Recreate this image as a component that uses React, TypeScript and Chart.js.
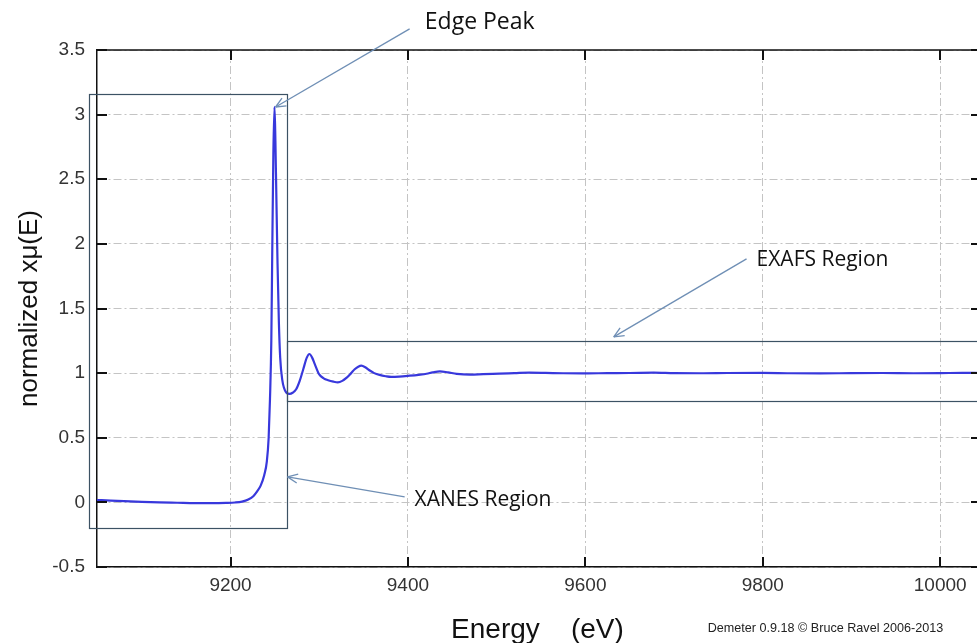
import React, { useEffect, useRef } from 'react';
import { Chart, registerables } from 'chart.js';

Chart.register(...registerables);

// ---- data ----
const energy: number[] = [
  9049.5, 9065, 9080, 9100, 9120, 9140, 9160, 9180, 9195, 9205, 9213, 9220, 9226, 9230, 9234,
  9238, 9241, 9243, 9244.5, 9246, 9247, 9248.3, 9249.6, 9250.6, 9251.6, 9253, 9254.5, 9256,
  9258.3, 9262.8, 9266.6, 9270, 9274, 9278, 9282, 9286, 9289, 9292, 9295, 9300, 9305, 9310,
  9316, 9321, 9326, 9331, 9336, 9340, 9344, 9347.5, 9352, 9357, 9362, 9368, 9375, 9381, 9390,
  9402, 9412, 9421, 9428, 9436, 9445, 9455, 9470, 9485, 9503, 9520, 9537, 9555, 9575, 9600,
  9625, 9650, 9677, 9700, 9730, 9760, 9800, 9830, 9865, 9900, 9935, 9970, 10000, 10025, 10046,
];
const muNorm: number[] = [
  0.018, 0.014, 0.009, 0.004, 0.0, -0.003, -0.006, -0.006, -0.004, -0.001, 0.006, 0.022, 0.05,
  0.085, 0.13, 0.21, 0.32, 0.5, 0.8, 1.25, 1.9, 2.7, 3.06, 2.8, 2.4, 1.85, 1.4, 1.12,
  0.95, 0.85, 0.839, 0.848, 0.875, 0.94, 1.03, 1.12, 1.148, 1.12, 1.07, 0.99, 0.96, 0.945,
  0.934, 0.929, 0.94, 0.965, 1.0, 1.03, 1.05, 1.058, 1.045, 1.02, 1.0, 0.986, 0.976, 0.971, 0.973,
  0.98, 0.987, 0.995, 1.006, 1.014, 1.006, 0.994, 0.988, 0.992, 0.996, 1.0, 1.004, 1.002, 0.999, 0.998,
  1.0, 1.001, 1.004, 1.0, 0.999, 1.001, 1.002, 0.999, 0.998, 1.0, 1.001, 0.999, 1.0, 1.002, 1.001,
];
const xTickValues: number[] = [9200, 9400, 9600, 9800, 10000];
const xRange: number[] = [9049.5, 10046];
const yRange: number[] = [-0.5, 3.5];
const yStep = 0.5;

const yAxisTitle = 'normalized x\u03bc(E)';
const xAxisTitle = 'Energy    (eV)';
const creditText = 'Demeter 0.9.18 \u00a9 Bruce Ravel 2006-2013';

// annotation boxes / arrows, in data coordinates
const xanesBox = { x0: 9040, x1: 9264, y0: -0.198, y1: 3.16 };
const exafsBox = { x0: 9264, x1: 10200, y0: 0.785, y1: 1.249 };
const annotations = [
  { text: 'Edge Peak', size: 23, tx: 9419, ty: 3.711, from: [9401.9, 3.663], to: [9250.8, 3.059] },
  { text: 'XANES Region', size: 21, tx: 9407.5, ty: 0.019, from: [9396.3, 0.042], to: [9264.3, 0.197] },
  { text: 'EXAFS Region', size: 21, tx: 9793, ty: 1.875, from: [9781.7, 1.884], to: [9632, 1.28] },
];

const overlayPlugin = {
  id: 'overlay',
  afterDatasetsDraw(chart: any) {
    const { ctx, chartArea: a, scales } = chart;
    const xs = scales.x;
    const ys = scales.y;
    const line = (x1: number, y1: number, x2: number, y2: number) => {
      ctx.beginPath();
      ctx.moveTo(x1, y1);
      ctx.lineTo(x2, y2);
      ctx.stroke();
    };
    ctx.save();
    // top border
    ctx.strokeStyle = '#111';
    ctx.lineWidth = 1.5;
    line(a.left, a.top, a.right, a.top);
    // inward tick marks
    ctx.lineWidth = 2;
    for (const v of xTickValues) {
      const px = Math.round(xs.getPixelForValue(v));
      line(px, a.bottom, px, a.bottom - 10);
      line(px, a.top, px, a.top + 10);
    }
    for (const t of ys.ticks) {
      const py = Math.round(ys.getPixelForValue(t.value));
      line(a.left, py, a.left + 10, py);
      line(a.right, py, a.right - 10, py);
    }
    // boxes
    ctx.strokeStyle = '#3c5264';
    ctx.lineWidth = 1.2;
    for (const b of [xanesBox, exafsBox]) {
      const l = Math.round(xs.getPixelForValue(b.x0)) + 0.5;
      const r = Math.round(xs.getPixelForValue(b.x1)) + 0.5;
      const t = Math.round(ys.getPixelForValue(b.y1)) + 0.5;
      const bt = Math.round(ys.getPixelForValue(b.y0)) + 0.5;
      ctx.strokeRect(l, t, r - l, bt - t);
    }
    // arrows + labels
    for (const an of annotations) {
      const fx = xs.getPixelForValue(an.from[0]);
      const fy = ys.getPixelForValue(an.from[1]);
      const tx = xs.getPixelForValue(an.to[0]);
      const ty = ys.getPixelForValue(an.to[1]);
      ctx.strokeStyle = '#6f8fb5';
      ctx.lineWidth = 1.3;
      line(fx, fy, tx, ty);
      const ang = Math.atan2(fy - ty, fx - tx);
      const hl = 11;
      const ha = 0.42;
      line(tx, ty, tx + hl * Math.cos(ang + ha), ty + hl * Math.sin(ang + ha));
      line(tx, ty, tx + hl * Math.cos(ang - ha), ty + hl * Math.sin(ang - ha));
      ctx.fillStyle = '#111';
      ctx.font = `${an.size}px "Open Sans", sans-serif`;
      ctx.textAlign = 'left';
      ctx.textBaseline = 'middle';
      ctx.fillText(an.text, xs.getPixelForValue(an.tx), ys.getPixelForValue(an.ty));
    }
    // x axis title + credit
    ctx.fillStyle = '#111';
    ctx.font = '28px "Liberation Sans", Arial, sans-serif';
    ctx.textAlign = 'center';
    ctx.textBaseline = 'middle';
    ctx.fillText(xAxisTitle, xs.getPixelForValue(9546), chart.height - 13);
    ctx.font = '12.6px "Liberation Sans", Arial, sans-serif';
    ctx.textAlign = 'left';
    ctx.fillStyle = '#222';
    ctx.fillText(creditText, xs.getPixelForValue(9738), chart.height - 14);
    ctx.restore();
  },
};

export default function App() {
  const canvasRef = useRef<HTMLCanvasElement | null>(null);

  useEffect(() => {
    if (!canvasRef.current) return;
    const points = energy.map((e, i) => ({ x: e, y: muNorm[i] }));
    const gridDash = [8, 3, 2, 3];
    const chart = new Chart(canvasRef.current, {
      type: 'line',
      data: {
        datasets: [
          {
            data: points,
            borderColor: '#3838dc',
            borderWidth: 2.2,
            pointRadius: 0,
            fill: false,
            cubicInterpolationMode: 'monotone',
          },
        ],
      },
      options: {
        animation: false,
        responsive: true,
        maintainAspectRatio: false,
        layout: { padding: { left: 0, right: 4, top: 50, bottom: 0 } },
        plugins: { legend: { display: false }, tooltip: { enabled: false } },
        scales: {
          x: {
            type: 'linear',
            min: xRange[0],
            max: xRange[1],
            afterBuildTicks: (s: any) => {
              s.ticks = xTickValues.map((v) => ({ value: v }));
            },
            afterFit: (s: any) => {
              s.height = 76;
            },
            ticks: {
              callback: (v: any) => String(v),
              color: '#333',
              font: { family: '"Liberation Sans", Arial, sans-serif', size: 19 },
              padding: 7,
              maxRotation: 0,
            },
            grid: { color: '#c4c4c4', lineWidth: 1, drawTicks: false },
            border: { display: true, color: '#111', width: 1.5, dash: gridDash },
          },
          y: {
            type: 'linear',
            min: yRange[0],
            max: yRange[1],
            afterFit: (s: any) => {
              s.width = 97;
            },
            ticks: {
              stepSize: yStep,
              callback: (v: any) => String(v),
              color: '#333',
              font: { family: '"Liberation Sans", Arial, sans-serif', size: 19 },
              padding: 12,
            },
            grid: { color: '#c4c4c4', lineWidth: 1, drawTicks: false },
            border: { display: true, color: '#111', width: 1.5, dash: gridDash },
            title: {
              display: true,
              text: yAxisTitle,
              color: '#111',
              font: { family: '"Liberation Sans", Arial, sans-serif', size: 26 },
              padding: { top: 14, bottom: 0 },
            },
          },
        },
      },
      plugins: [overlayPlugin],
    } as any);
    return () => chart.destroy();
  }, []);

  return (
    <div
      style={{
        position: 'fixed',
        left: 0,
        top: 0,
        width: 977,
        height: 643,
        overflow: 'hidden',
        background: '#fff',
      }}
    >
      <div style={{ position: 'relative', width: 985, height: 643 }}>
        <canvas ref={canvasRef} />
      </div>
    </div>
  );
}
